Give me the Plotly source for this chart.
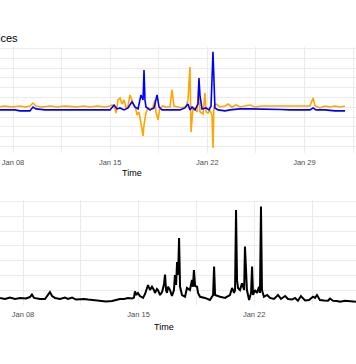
import pandas as pd
import plotly.graph_objects as go

# ---------------- data (fractional day of January 2024, value) ----------------
orange_days = [
    7.00, 7.40, 7.90, 8.50, 8.90, 9.22, 9.44, 9.66, 10.10, 10.67,
    11.20, 11.70, 12.11, 12.60, 13.10, 13.55, 14.10, 14.63, 14.99, 15.13,
    15.35, 15.42, 15.57, 15.71, 15.85, 16.00, 16.14, 16.29, 16.43, 16.57,
    16.72, 16.86, 16.94, 17.08, 17.22, 17.37, 17.44, 17.58, 17.73, 17.87,
    18.09, 18.23, 18.30, 18.38, 18.45, 18.59, 18.81, 19.02, 19.31, 19.46,
    19.60, 19.89, 20.18, 20.47, 20.61, 20.75, 20.83, 20.97, 21.11, 21.26,
    21.40, 21.47, 21.69, 21.83, 21.91, 22.05, 22.19, 22.34, 22.41, 22.48,
    22.63, 22.92, 23.28, 23.49, 23.78, 24.07, 24.36, 24.72, 25.08, 25.44,
    25.94, 26.52, 27.24, 27.96, 28.68, 29.40, 29.62, 29.76, 30.12, 30.48,
    30.84, 31.20, 31.56, 31.92,
]
orange_vals = [
    102, 107, 102, 107, 102, 107, 122, 107, 102, 107,
    102, 107, 105, 102, 107, 102, 107, 102, 107, 112,
    92, 71, 138, 148, 117, 138, 97, 107, 163, 138,
    117, 87, 61, 77, 20, -46, 10, 71, 97, 87,
    102, 138, 77, 51, 36, 97, 107, 102, 102, 189,
    107, 102, 97, 107, 138, 306, -26, 102, 87, 77,
    230, 77, 66, 173, 77, 71, 87, 56, -107, 107,
    117, 102, 107, 117, 102, 112, 102, 107, 112, 102,
    107, 107, 107, 107, 107, 107, 148, 107, 97, 107,
    102, 107, 102, 107,
]

blue_days = [
    7.00, 8.14, 8.50, 9.22, 9.44, 9.66, 10.31, 11.39, 12.47, 13.55,
    14.63, 14.99, 15.28, 15.49, 15.71, 16.00, 16.29, 16.57, 16.79, 17.01,
    17.22, 17.37, 17.44, 17.51, 17.58, 17.87, 18.16, 18.38, 18.52, 18.74,
    19.31, 19.67, 20.03, 20.39, 20.61, 20.75, 20.90, 21.11, 21.33, 21.40,
    21.47, 21.62, 21.91, 22.12, 22.27, 22.41, 22.48, 22.55, 22.77, 23.28,
    23.64, 24.36, 25.08, 25.80, 26.52, 27.24, 27.96, 28.68, 29.40, 29.62,
    29.83, 30.48, 31.20, 31.92,
]
blue_vals = [
    87, 87, 82, 82, 102, 92, 87, 87, 84, 87,
    87, 87, 112, 92, 97, 87, 97, 128, 102, 92,
    163, 138, 291, 138, 102, 87, 97, 163, 102, 87,
    87, 87, 87, 97, 117, 87, 102, 87, 117, 250,
    163, 92, 97, 87, 107, 383, 189, 97, 87, 82,
    87, 92, 92, 92, 92, 89, 87, 87, 87, 97,
    87, 87, 82, 82,
]

black_days = [
    6.61, 6.91, 7.21, 7.52, 7.82, 8.18, 8.42, 8.54, 8.67, 9.03,
    9.33, 9.63, 9.76, 9.94, 10.24, 10.54, 10.72, 10.97, 11.21, 11.45,
    11.69, 11.94, 12.30, 12.66, 13.03, 13.39, 13.63, 13.87, 14.12, 14.36,
    14.60, 14.72, 14.78, 14.87, 14.96, 15.08, 15.27, 15.39, 15.51, 15.57,
    15.69, 15.81, 15.93, 15.99, 16.11, 16.17, 16.30, 16.42, 16.54, 16.60,
    16.66, 16.72, 16.78, 16.90, 17.02, 17.14, 17.20, 17.27, 17.33, 17.39,
    17.45, 17.51, 17.63, 17.81, 17.93, 18.11, 18.23, 18.29, 18.35, 18.42,
    18.54, 18.60, 18.72, 19.02, 19.32, 19.51, 19.57, 19.63, 19.93, 20.23,
    20.53, 20.66, 20.78, 20.84, 20.90, 20.96, 21.02, 21.14, 21.26, 21.39,
    21.44, 21.50, 21.56, 21.69, 21.81, 21.87, 21.93, 22.05, 22.17, 22.29,
    22.35, 22.41, 22.47, 22.59, 22.78, 22.96, 23.20, 23.44, 23.62, 23.87,
    24.05, 24.29, 24.47, 24.65, 24.83, 25.08, 25.32, 25.56, 25.68, 25.80,
    25.98, 26.22, 26.47, 26.59, 26.77, 27.01, 27.20, 27.50, 27.80, 28.16,
]
black_vals = [
    46, 39, 49, 39, 46, 42, 52, 69, 46, 39,
    39, 86, 59, 46, 39, 49, 39, 49, 35, 39,
    39, 35, 32, 25, 22, 25, 32, 39, 39, 46,
    42, 49, 90, 66, 80, 59, 46, 73, 114, 134,
    100, 122, 100, 80, 107, 100, 66, 86, 141, 205,
    100, 80, 122, 100, 59, 100, 202, 134, 290, 202,
    454, 122, 66, 54, 114, 100, 168, 122, 236, 127,
    122, 80, 54, 46, 32, 66, 259, 66, 54, 46,
    66, 114, 80, 100, 644, 168, 114, 100, 146, 100,
    395, 284, 100, 32, 80, 259, 66, 100, 80, 122,
    80, 667, 100, 54, 66, 46, 39, 66, 39, 59,
    39, 35, 46, 27, 59, 29, 32, 54, 46, 66,
    32, 29, 27, 42, 27, 25, 20, 27, 22, 20,
]

title_text = "Prices"
x_title = "Time"
tick_format = "%b %d"

# visible windows (January day numbers) and value ranges
top_window = [7.063, 32.715]
bottom_window = [6.607, 28.164]
top_yrange = [-133, 408]
bottom_yrange = [-2, 712]

START = pd.Timestamp("2024-01-01")


def to_time(days):
    return [START + pd.Timedelta(days=d - 1) for d in days]


fig = go.Figure()
fig.add_trace(go.Scatter(x=to_time(orange_days), y=orange_vals, mode="lines",
                         line=dict(color="#FFA500", width=1.6), xaxis="x", yaxis="y",
                         showlegend=False))
fig.add_trace(go.Scatter(x=to_time(blue_days), y=blue_vals, mode="lines",
                         line=dict(color="#0000FF", width=1.6), xaxis="x", yaxis="y",
                         showlegend=False))
fig.add_trace(go.Scatter(x=to_time(black_days), y=black_vals, mode="lines",
                         line=dict(color="#000000", width=2), xaxis="x2", yaxis="y2",
                         showlegend=False))

GRID = "#EBEBEB"
WEEK = 7 * 86400000
HALF = 3.5 * 86400000
FONT = "Liberation Sans, Arial, sans-serif"


def xaxis(rng, anchor):
    return dict(
        type="date", range=to_time(rng), anchor=anchor, domain=[0, 1],
        tick0=START, dtick=WEEK, tickformat=tick_format,
        showgrid=True, gridcolor=GRID, gridwidth=1,
        minor=dict(dtick=HALF, tick0=START, showgrid=True, gridcolor=GRID, gridwidth=1),
        ticks="", zeroline=False, showline=False, automargin=False,
        ticklabelstandoff=3,
        tickfont=dict(family=FONT, size=7.5, color="#4D4D4D"),
    )


def yaxis(rng, dom, anchor, major, minor):
    return dict(
        range=rng, domain=dom, anchor=anchor, tick0=0, dtick=major,
        showgrid=True, gridcolor=GRID, gridwidth=1,
        minor=dict(dtick=minor, tick0=0, showgrid=True, gridcolor=GRID, gridwidth=1),
        showticklabels=False, ticks="", zeroline=False, showline=False, automargin=False,
    )


fig.update_layout(
    width=356, height=364,
    margin=dict(l=0, r=0, t=0, b=0),
    paper_bgcolor="white", plot_bgcolor="white",
    template="none",
    xaxis=xaxis(top_window, "y"),
    yaxis=yaxis(top_yrange, [1 - 153 / 364, 1 - 47 / 364], "x", 100, 50),
    xaxis2=xaxis(bottom_window, "y2"),
    yaxis2=yaxis(bottom_yrange, [1 - 305 / 364, 1 - 200 / 364], "x2", 200, 100),
    annotations=[
        dict(text=title_text, xref="paper", yref="paper", x=-15.5 / 356, y=1 - 38 / 364,
             xanchor="left", yanchor="middle", showarrow=False,
             font=dict(family=FONT, size=11, color="#000000")),
        dict(text=x_title, xref="paper", yref="paper", x=131.5 / 356, y=1 - 173 / 364,
             xanchor="center", yanchor="middle", showarrow=False,
             font=dict(family=FONT, size=9, color="#000000")),
        dict(text=x_title, xref="paper", yref="paper", x=164 / 356, y=1 - 327 / 364,
             xanchor="center", yanchor="middle", showarrow=False,
             font=dict(family=FONT, size=9, color="#000000")),
    ],
)

fig.write_html("out.html", config={"displayModeBar": False},
               post_script="document.body.style.margin='0';")
